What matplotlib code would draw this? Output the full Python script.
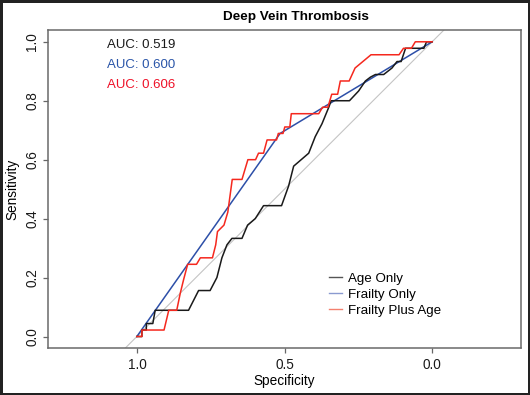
import matplotlib
matplotlib.use("Agg")
import matplotlib.pyplot as plt

plt.rcParams['font.family'] = ['Liberation Sans', 'DejaVu Sans']

# ROC curves (specificity, sensitivity)
age_spec = [1.000, 0.983, 0.983, 0.968, 0.968, 0.946, 0.938, 0.825, 0.791, 0.752,
            0.729, 0.712, 0.695, 0.678, 0.644, 0.625, 0.599, 0.571, 0.510, 0.486,
            0.469, 0.418, 0.396, 0.373, 0.350, 0.342, 0.280, 0.249, 0.226, 0.209,
            0.192, 0.164, 0.136, 0.119, 0.105, 0.090, 0.028, 0.019, 0.000]
age_sens = [0.000, 0.000, 0.022, 0.022, 0.044, 0.044, 0.089, 0.089, 0.156, 0.156,
            0.200, 0.267, 0.311, 0.333, 0.333, 0.378, 0.400, 0.444, 0.444, 0.511,
            0.578, 0.622, 0.678, 0.722, 0.778, 0.800, 0.800, 0.833, 0.867, 0.880,
            0.889, 0.889, 0.911, 0.933, 0.933, 0.978, 0.978, 1.000, 1.000]

frailty_spec = [1.000, 0.515, 0.000]
frailty_sens = [0.000, 0.689, 1.000]

both_spec = [1.000, 0.983, 0.983, 0.908, 0.892, 0.865, 0.853, 0.842, 0.828, 0.798,
             0.785, 0.744, 0.733, 0.727, 0.705, 0.692, 0.677, 0.644, 0.624, 0.598,
             0.588, 0.571, 0.559, 0.527, 0.521, 0.505, 0.499, 0.482, 0.477, 0.384,
             0.371, 0.353, 0.340, 0.320, 0.311, 0.281, 0.261, 0.207, 0.112, 0.097,
             0.070, 0.057, 0.000]
both_sens = [0.000, 0.000, 0.022, 0.022, 0.089, 0.089, 0.147, 0.192, 0.245, 0.245,
             0.267, 0.267, 0.311, 0.356, 0.378, 0.422, 0.533, 0.533, 0.600, 0.600,
             0.622, 0.622, 0.667, 0.667, 0.689, 0.689, 0.711, 0.711, 0.756, 0.756,
             0.778, 0.778, 0.822, 0.822, 0.867, 0.867, 0.911, 0.956, 0.956, 0.978,
             0.978, 1.000, 1.000]

labels = ['Age Only', 'Frailty Only', 'Frailty Plus Age']
auc_text = ['AUC: 0.519', 'AUC: 0.600', 'AUC: 0.606']
colors = ['#1a1a1a', '#2d4fa8', '#f5281e']
text_colors = ['#1a1a1a', '#2a55a8', '#ee1128']
legend_colors = ['#555555', '#8a9ad0', '#f4806f']

W, H = 530, 395
fig = plt.figure(figsize=(W / 100, H / 100), dpi=100)
fig.patch.set_edgecolor('#222222')
fig.patch.set_linewidth(2.2)

ax = fig.add_axes([48.3 / W, 1 - 348.3 / H, (520.7 - 48.3) / W, (348.3 - 30) / H])

# chance line
ax.axline((1, 0), (0, 1), color='#c4c4c4', lw=0.8, zorder=1)

ax.plot(age_spec, age_sens, color=colors[0], lw=1.1, zorder=3)
ax.plot(frailty_spec, frailty_sens, color=colors[1], lw=1.1, zorder=2)
ax.plot(both_spec, both_sens, color=colors[2], lw=1.1, zorder=4)

ax.set_xlim(1.3, -0.3)
ax.set_ylim(-0.04, 1.04)
ax.set_xticks([1.0, 0.5, 0.0])
ax.set_xticklabels(['1.0', '0.5', '0.0'])
ax.set_yticks([0.0, 0.2, 0.4, 0.6, 0.8, 1.0])
ax.set_yticklabels(['0.0', '0.2', '0.4', '0.6', '0.8', '1.0'])
ax.tick_params(direction='out', length=3.6, width=0.9, color='#666666',
               labelsize=9.8, labelcolor='#1a1a1a')
ax.tick_params(axis='x', pad=3.5)
ax.tick_params(axis='y', pad=3.0)
for t in ax.get_yticklabels():
    t.set_rotation(90)
    t.set_va('center')
    t.set_ha('right')
for s in ax.spines.values():
    s.set_color('#6a6a6a')
    s.set_linewidth(1.1)

ax.set_xlabel('Specificity', fontsize=9.8, labelpad=1)
ax.set_ylabel('Sensitivity', fontsize=9.8, labelpad=4)
fig.text(295.5 / W, 1 - 17.3 / H, 'Deep Vein Thrombosis', fontsize=9.7,
         fontweight='bold', ha='center', va='center')

for i, txt in enumerate(auc_text):
    ax.text(1.102, 0.989 - i * 0.068, txt, color=text_colors[i], fontsize=9.5,
            ha='left', va='center')

handles = [plt.Line2D([], [], color=c, lw=1.0) for c in legend_colors]
fig.legend(handles, labels, loc='upper left', frameon=False, fontsize=9.6,
           bbox_to_anchor=(328.6 / W, 1 - 272.5 / H), borderpad=0,
           borderaxespad=0, handlelength=1.0, handletextpad=0.45,
           labelspacing=0.28)

fig.savefig('out.png', dpi=100)
